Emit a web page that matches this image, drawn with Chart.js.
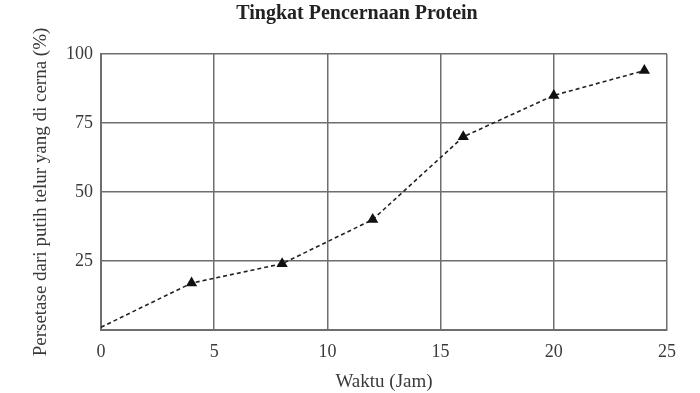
<!DOCTYPE html>
<html>
<head>
<meta charset="utf-8">
<script src="https://cdn.jsdelivr.net/npm/chart.js@4/dist/chart.umd.min.js"></script>
<style>
html,body{margin:0;padding:0;background:#fff;}
#wrap{width:700px;height:393px;}
</style>
</head>
<body>
<div id="wrap"><canvas id="c" width="700" height="393"></canvas></div>
<script>
const hours = [0, 4, 8, 12, 16, 20, 24];
const digestedPercent = [1, 17, 24, 40, 70, 85, 94];
const xTicks = [0, 5, 10, 15, 20, 25];
const yTicks = [0, 25, 50, 75, 100];

const chartTitle = 'Tingkat Pencernaan Protein';
const xTitle = 'Waktu (Jam)';
const yTitle = 'Persetase dari putih telur yang di cerna (%)';

const points = hours.map((h, i) => ({x: h, y: digestedPercent[i]}));
const serif = "'Liberation Serif', 'DejaVu Serif', serif";
const gridColor = '#6e6e6e';
const textColor = '#3a3a3a';

const titlePlugin = {
  id: 'pageTitle',
  afterDraw(chart) {
    const ctx = chart.ctx;
    ctx.save();
    ctx.font = 'bold 20px ' + serif;
    ctx.fillStyle = '#222';
    ctx.textAlign = 'center';
    ctx.textBaseline = 'middle';
    ctx.fillText(chartTitle, 357, 14);
    ctx.restore();
  }
};

new Chart(document.getElementById('c'), {
  type: 'scatter',
  data: {
    datasets: [{
      data: points,
      showLine: true,
      borderColor: '#222',
      borderWidth: 1.6,
      borderDash: [4, 3],
      pointStyle: 'triangle',
      pointRadius: ctx => ctx.dataIndex === 0 ? 0 : 6.5,
      pointBackgroundColor: '#111',
      pointBorderColor: '#111',
      pointBorderWidth: 0,
      tension: 0
    }]
  },
  plugins: [titlePlugin],
  options: {
    responsive: false,
    animation: false,
    devicePixelRatio: 1,
    layout: {padding: {left: 14, right: 33, top: 54, bottom: 0}},
    plugins: {
      legend: {display: false},
      tooltip: {enabled: false},
      title: {display: false}
    },
    scales: {
      x: {
        type: 'linear',
        min: 0, max: 25,
        afterBuildTicks: s => { s.ticks = xTicks.map(v => ({value: v})); },
        afterFit: s => { s.height = 63; },
        ticks: {color: textColor, font: {family: serif, size: 18}, padding: 11},
        grid: {color: gridColor, lineWidth: 1.5, drawTicks: false},
        border: {color: gridColor, width: 2},
        title: {
          display: true, text: xTitle, color: textColor,
          font: {family: serif, size: 19}, padding: {top: 0, bottom: 0}
        }
      },
      y: {
        type: 'linear',
        min: 0, max: 100,
        afterBuildTicks: s => { s.ticks = yTicks.map(v => ({value: v})); },
        afterFit: s => { s.width = 87; },
        ticks: {
          color: textColor, font: {family: serif, size: 18}, padding: 8,
          callback: v => v === 0 ? '' : v
        },
        grid: {color: gridColor, lineWidth: 1.5, drawTicks: false},
        border: {color: gridColor, width: 2},
        title: {
          display: true, text: yTitle, color: textColor,
          font: {family: serif, size: 19}, padding: {top: 16, bottom: 0}
        }
      }
    }
  }
});
</script>
</body>
</html>
